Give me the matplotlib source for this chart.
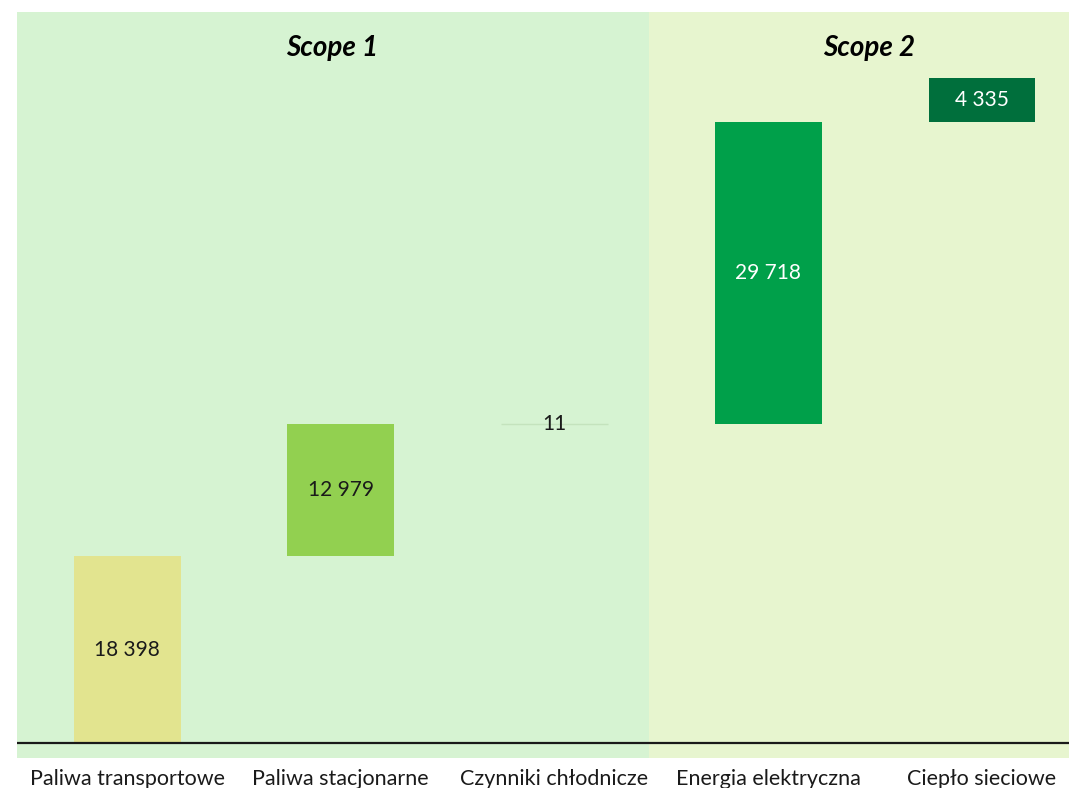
import matplotlib
matplotlib.use("Agg")
import matplotlib.pyplot as plt
import numpy as np

categories = ["Paliwa transportowe", "Paliwa stacjonarne", "Czynniki chłodnicze",
              "Energia elektryczna", "Ciepło sieciowe"]
values = [18398, 12979, 11, 29718, 4335]
value_labels = ["18 398", "12 979", "11", "29 718", "4 335"]
scope_titles = ["Scope 1", "Scope 2"]

bar_colors = ["#e2e48f", "#92d050", "#c8e6c0", "#00a04a", "#006f3c"]
label_colors = ["#1a1a1a", "#1a1a1a", "#1a1a1a", "white", "white"]

plt.rcParams['font.family'] = ['Lato', 'DejaVu Sans']

fig = plt.figure(figsize=(10.69, 7.88), dpi=100)
ax = fig.add_axes([17/1069, 1 - 758/788, 1 - 17/1069, (758 - 12)/788])

x = np.arange(len(values))
bottoms = np.concatenate([[0], np.cumsum(values)[:-1]])

ax.set_xlim(-0.515, 4.407)
ax.set_ylim(-1476, 71935)

# scope backgrounds
ax.axvspan(-0.515, 2.44, color="#d6f3d2", zorder=0, lw=0)
ax.axvspan(2.44, 4.407, color="#e7f5cf", zorder=0, lw=0)

bars = ax.bar(x, values, bottom=bottoms, width=0.5, color=bar_colors, zorder=2, lw=0)
# thin marker for tiny value
ax.hlines(bottoms[2] + values[2], x[2] - 0.25, x[2] + 0.25, color="#c4e3bd", lw=1, zorder=2)

for i, (b, v) in enumerate(zip(bottoms, values)):
    ax.text(x[i], b + v / 2, value_labels[i], ha="center", va="center",
            fontsize=15, color=label_colors[i], zorder=3)

ax.axhline(0, color="#1a1a1a", lw=1.6, zorder=4)

ax.text(0.96, 68400, scope_titles[0], ha="center", va="center", fontsize=20,
        fontweight="bold", fontstyle="italic", color="black")
ax.text(3.47, 68400, scope_titles[1], ha="center", va="center", fontsize=20,
        fontweight="bold", fontstyle="italic", color="black")

ax.set_xticks(x)
ax.set_xticklabels(categories, fontsize=15.5, color="#1a1a1a")
ax.tick_params(axis="x", length=0, pad=8)
ax.set_yticks([])
for s in ax.spines.values():
    s.set_visible(False)

fig.savefig("out.png", dpi=100, facecolor="white")
